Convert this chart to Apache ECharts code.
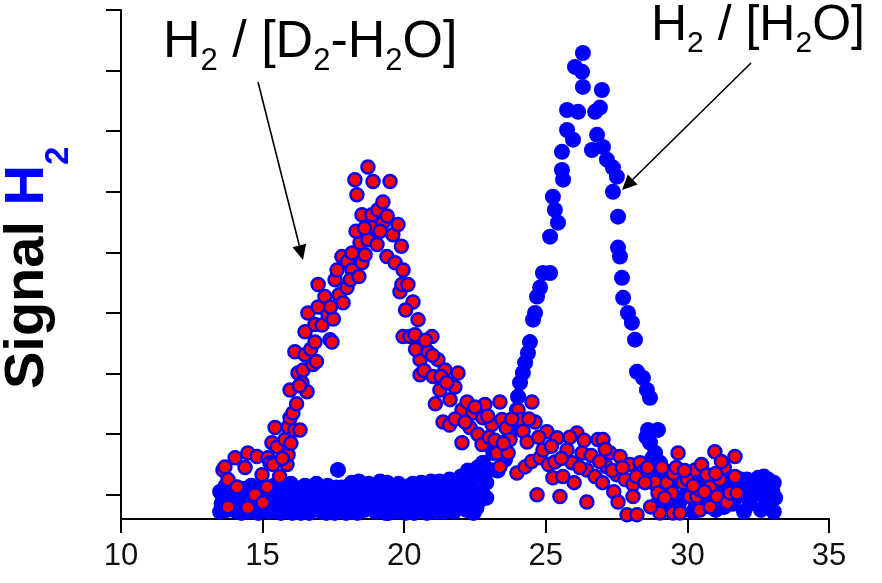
<!DOCTYPE html>
<html><head><meta charset="utf-8">
<script src="https://cdn.jsdelivr.net/npm/echarts@6/dist/echarts.min.js"></script>
<style>html,body{margin:0;padding:0;background:#fff}#c{width:882px;height:583px}</style>
</head><body><div id="c"></div>
<script>
// ---- data ----
const xTickValues = [10, 15, 20, 25, 30, 35];
const yTickValues = [0, 1, 2, 3, 4, 5, 6, 7, 8];
const yTitle = ['Signal ', 'H', '2'];
const label1 = [['H',0],['2',1],[' / [D',0],['2',1],['-H',0],['2',1],['O]',0]];
const label2 = [['H',0],['2',1],[' / [H',0],['2',1],['O]',0]];

// H2 / [D2-H2O]  (red)
const redX = [13.60,13.67,13.74,13.78,13.78,14.03,14.10,14.38,14.48,14.48,14.73,14.80,14.98,15.01,15.16,15.19,15.26,15.33,15.37,15.44,15.51,15.60,15.79,15.86,15.90,15.90,15.97,15.97,16.00,16.07,16.14,16.14,16.25,16.32,16.39,16.43,16.50,16.50,16.57,16.60,16.70,16.78,16.85,16.85,16.96,16.96,17.10,17.20,17.31,17.38,17.45,17.56,17.63,17.70,17.80,17.84,17.98,18.00,18.16,18.16,18.26,18.33,18.44,18.51,18.51,18.62,18.72,18.72,18.86,18.86,18.90,19.04,19.07,19.25,19.25,19.39,19.50,19.60,19.68,19.78,19.85,19.92,19.96,19.96,20.13,20.20,20.31,20.38,20.49,20.56,20.56,20.70,20.84,20.98,21.02,21.10,21.19,21.26,21.37,21.44,21.60,21.62,21.79,21.90,22.04,22.04,22.22,22.32,22.43,22.60,22.75,22.78,22.85,23.00,23.10,23.28,23.38,23.38,23.45,23.60,23.67,23.74,23.98,24.02,24.09,24.20,24.27,24.34,24.50,24.51,24.62,24.69,24.80,24.90,25.04,25.10,25.25,25.32,25.40,25.50,25.60,25.75,25.93,26.00,26.10,26.28,26.45,26.45,26.60,26.74,26.84,27.00,27.02,27.16,27.27,27.40,27.51,27.55,27.62,27.80,27.87,27.97,28.08,28.08,28.22,28.33,28.43,28.60,28.86,28.96,29.03,29.10,29.28,29.46,29.49,29.50,29.67,29.74,29.84,30.00,30.09,30.27,30.34,30.44,30.44,30.50,30.69,30.80,30.80,30.97,31.05,31.15,31.30,31.40,31.50,31.68,31.68,31.75,
  15.70,16.20,16.30,16.90,17.50,17.40,18.10,18.40,18.30,18.60,19.15,19.40,19.90,20.05,20.40,20.75,21.00,21.30,21.50,21.80,22.15,22.50,22.95,23.20,23.50,23.80,24.40,24.75,25.20,25.55,25.85,26.20,26.35,26.90,27.10,27.35,27.70,28.20,28.50,28.70,29.20,29.60,29.90,30.20,30.60,31.00,31.20];
const redY = [0.41,0.46,-0.17,0.25,-0.20,0.61,0.13,0.45,0.69,-0.21,0.00,0.63,0.33,-0.13,0.13,0.61,0.53,0.86,0.50,1.11,0.79,0.30,0.91,0.50,0.66,1.12,1.27,1.73,0.85,1.35,1.07,2.36,2.01,1.07,1.85,2.06,2.31,2.69,1.70,3.00,2.40,2.15,2.52,2.81,3.10,3.47,2.80,3.27,2.97,2.56,2.52,3.55,3.71,3.30,3.93,3.17,3.42,3.85,3.99,3.71,5.20,4.95,4.16,4.62,3.83,3.96,5.41,4.21,4.42,4.62,5.17,4.13,4.70,4.83,4.49,3.93,5.17,4.29,3.83,4.46,3.35,3.47,3.71,2.61,3.47,2.61,3.18,2.64,2.89,2.23,1.98,2.05,2.36,2.61,1.95,1.50,2.23,1.73,1.20,2.06,1.15,1.57,1.78,2.01,1.40,0.86,1.53,1.11,1.35,1.00,0.83,1.27,1.49,0.95,1.16,0.69,1.53,0.46,1.24,1.10,0.69,0.91,0.36,1.40,1.24,1.05,0.46,0.87,0.55,1.53,1.20,0.00,0.61,0.74,1.04,0.50,0.28,0.54,0.94,-0.03,0.30,0.74,0.53,0.20,1.02,0.69,0.41,-0.12,0.65,0.30,0.91,0.20,0.91,0.46,0.69,0.05,0.33,-0.12,0.63,0.25,-0.33,0.50,0.17,-0.03,-0.33,0.53,0.38,0.45,0.21,0.03,-0.30,0.45,0.20,0.03,-0.30,0.35,0.69,-0.30,0.20,0.25,-0.03,0.41,-0.03,0.08,-0.25,0.50,0.33,0.13,-0.20,0.71,-0.03,0.25,0.45,-0.13,0.03,0.63,0.30,0.03,
  0.60,1.50,1.80,2.20,2.90,3.10,3.55,3.60,4.35,4.40,4.35,4.60,4.10,3.05,2.40,2.55,2.30,1.95,1.85,1.25,1.20,1.45,1.30,0.90,0.85,1.25,1.25,0.95,0.80,0.60,0.95,0.45,0.90,0.55,0.75,0.40,0.45,0.30,0.20,-0.20,-0.05,0.45,0.40,0.15,0.05,0.35,0.55];

// H2 / [H2O]  (blue)
const blueX = [13.50,13.50,13.60,13.70,13.75,13.90,14.10,14.15,14.30,14.35,14.50,14.70,14.75,14.90,15.10,15.15,15.30,15.50,15.55,15.70,15.75,15.90,15.95,16.10,16.15,16.30,16.35,16.50,16.55,16.70,16.75,16.90,16.95,17.10,17.15,17.30,17.35,17.50,17.55,17.66,17.80,17.85,18.00,18.05,18.20,18.25,18.40,18.45,18.60,18.65,18.80,18.85,19.00,19.05,19.20,19.25,19.40,19.45,19.60,19.65,19.80,19.85,20.00,20.05,20.20,20.25,20.40,20.45,20.60,20.65,20.80,20.85,21.00,21.05,21.20,21.25,21.40,21.45,21.60,21.65,21.80,21.85,22.00,22.05,22.20,22.25,22.40,22.45,22.60,22.65,22.78,22.90,22.90,23.03,23.14,23.30,23.49,23.56,23.74,23.91,23.98,24.02,24.09,24.19,24.27,24.37,24.44,24.55,24.62,24.69,24.80,24.90,25.15,25.15,25.43,25.32,25.25,25.57,25.61,25.57,25.96,25.75,25.75,26.14,26.31,26.28,26.03,26.31,26.98,26.74,26.91,26.81,26.63,27.02,27.16,27.37,27.51,27.37,27.55,27.55,27.62,27.69,27.73,27.90,28.04,28.15,28.22,28.43,28.57,28.68,28.55,28.61,28.96,28.68,28.75,28.86,29.03,29.10,29.28,29.40,28.80,29.00,29.20,29.40,29.60,29.80,30.00,30.20,30.40,30.60,30.80,31.00,31.20,31.40,31.60,31.80,32.00,32.10,32.30,32.50,32.60,32.70,32.80,32.90,33.00,33.05,
  13.55,13.65,13.85,13.95,14.05,14.20,14.25,14.40,14.45,14.60,14.65,14.80,14.85,15.00,15.05,15.20,15.25,15.40,15.45,15.60,15.65,15.80,15.85,16.00,16.05,16.20,16.25,16.40,16.45,16.60,16.65,16.80,16.85,17.00,17.05,17.20,17.25,17.40,17.45,17.60,17.70,17.90,17.95,18.10,18.15,18.30,18.35,18.50,18.55,18.70,18.75,18.90,18.95,19.10,19.15,19.30,19.35,19.50,19.55,19.70,19.75,19.90,19.95,20.10,20.15,20.30,20.35,20.50,20.55,20.70,20.75,20.90,20.95,21.10,21.15,21.30,21.35,21.50,21.55,21.70,21.75,21.90,21.95,22.10,22.15,22.30,22.35,22.50,22.55,22.70,22.75,
  28.90,29.10,29.30,29.50,29.70,29.90,30.10,30.30,30.50,30.70,30.90,31.10,31.30,31.50,31.70,31.90,32.05,32.20,32.40,32.55,32.75,32.85,32.95,33.05,33.10];
const blueY = [-0.28,0.05,-0.10,0.15,-0.25,-0.05,-0.28,0.02,0.10,-0.20,-0.10,-0.28,0.10,-0.05,-0.25,0.12,-0.10,0.05,-0.28,0.15,-0.12,-0.25,0.05,0.12,-0.18,-0.05,-0.30,0.15,-0.12,-0.25,0.05,0.18,-0.10,-0.28,0.02,0.15,-0.15,-0.05,-0.30,0.41,0.12,-0.20,-0.05,0.15,-0.28,0.05,0.22,-0.12,-0.25,0.08,0.12,-0.05,-0.28,0.15,0.00,-0.18,0.20,-0.30,-0.08,0.10,0.18,-0.20,-0.05,-0.30,0.15,-0.10,-0.25,0.08,0.20,-0.12,-0.30,0.05,0.18,-0.15,-0.05,0.22,-0.28,0.10,0.25,-0.10,-0.25,0.15,0.30,-0.05,-0.25,0.40,0.10,-0.30,0.45,-0.10,0.53,0.20,-0.05,0.41,0.69,0.40,0.86,0.58,1.02,1.19,1.40,1.62,1.85,2.01,2.18,2.34,2.52,2.89,3.00,3.27,3.42,3.66,3.66,4.26,4.49,4.70,4.92,5.36,5.20,5.66,5.86,6.02,6.35,6.32,6.73,6.98,7.06,7.29,6.68,6.32,6.39,5.94,5.69,5.74,5.53,5.40,5.25,5.00,4.59,4.08,3.93,3.58,3.25,3.00,2.84,2.56,2.03,1.93,1.73,1.60,0.95,1.07,1.07,0.86,0.60,0.69,0.53,0.35,0.36,0.15,0.20,-0.10,0.10,-0.25,0.30,-0.05,0.15,-0.28,0.20,-0.10,0.25,-0.25,0.05,0.30,-0.15,0.15,-0.28,0.25,0.00,0.28,-0.25,0.30,0.10,-0.20,0.05,-0.28,
  -0.15,0.00,0.10,-0.22,0.12,-0.12,-0.30,0.05,-0.28,0.15,-0.15,-0.05,-0.30,0.10,-0.15,0.02,-0.28,0.15,-0.20,-0.05,-0.30,0.08,-0.20,0.18,-0.30,-0.10,0.05,0.12,-0.22,0.00,-0.30,-0.15,0.10,0.05,-0.22,-0.10,-0.30,0.08,-0.25,0.12,-0.15,0.05,-0.30,-0.15,0.20,-0.05,-0.30,0.05,-0.18,-0.05,0.18,-0.15,0.05,-0.10,0.22,0.08,-0.30,-0.15,0.15,0.02,-0.28,0.10,-0.12,0.02,-0.22,0.18,-0.30,-0.05,0.15,0.05,-0.22,-0.12,0.22,0.05,-0.28,0.15,-0.12,-0.05,0.20,0.10,-0.28,0.02,-0.20,0.18,-0.15,0.25,-0.05,0.30,-0.22,0.35,0.05,
  0.40,-0.20,0.05,0.25,-0.15,0.20,0.05,-0.15,0.05,0.25,-0.05,0.20,-0.20,0.15,-0.05,0.25,0.05,-0.15,0.10,0.05,-0.10,0.25,0.15,0.20,-0.05];

// ---- chart ----
const FONT = '"Liberation Sans", Arial, Helvetica, sans-serif';
const zip = (a, b) => a.map((v, i) => [v, b[i]]);
const mctx = document.createElement('canvas').getContext('2d');
function measure(t, size, weight) { mctx.font = (weight || 'normal') + ' ' + size + 'px ' + FONT; return mctx.measureText(t).width; }

function formula(segs, x0, yc, main, sub, subOff, color, weight) {
  const els = []; let x = x0;
  segs.forEach(([t, isSub]) => {
    const sz = isSub ? sub : main;
    els.push({ type: 'text', x: x, y: isSub ? yc + subOff : yc,
      style: { text: t, font: (weight || 'normal') + ' ' + sz + 'px ' + FONT, fill: color, align: 'left', verticalAlign: 'middle' } });
    x += measure(t, sz, weight);
  });
  return els;
}
function arrow(x1, y1, x2, y2) {
  const L = 15, W = 7;
  const dx = x2 - x1, dy = y2 - y1, len = Math.hypot(dx, dy), ux = dx / len, uy = dy / len;
  const bx = x2 - ux * L, by = y2 - uy * L;
  return [
    { type: 'line', shape: { x1: x1, y1: y1, x2: bx, y2: by }, style: { stroke: '#000', lineWidth: 1.6 } },
    { type: 'polygon', shape: { points: [[x2, y2], [bx - uy * W, by + ux * W], [bx + uy * W, by - ux * W]] }, style: { fill: '#000' } }
  ];
}

// rotated y title
const titleEls = [];
(function () {
  let x = 0; const main = 56, sub = 33;
  const parts = [[yTitle[0], 0, '#000'], [yTitle[1], 0, '#0000ff'], [yTitle[2], 1, '#0000ff']];
  parts.forEach(([t, isSub, col]) => {
    const sz = isSub ? sub : main;
    titleEls.push({ type: 'text', x: x, y: isSub ? 31 : 0,
      style: { text: t, font: 'bold ' + sz + 'px ' + FONT, fill: col, align: 'left', verticalAlign: 'middle' } });
    x += measure(t, sz, 'bold');
  });
})();

const graphics = [].concat(
  formula(label1, 163, 43, 52, 31, 18, '#000'),
  formula(label2, 651, 26, 50, 30, 18, '#000'),
  arrow(258, 82, 303, 260),
  arrow(751, 63, 622, 190),
  [{ type: 'group', x: 28, y: 389, rotation: Math.PI / 2, children: titleEls }]
);

const chart = echarts.init(document.getElementById('c'), null, { renderer: 'canvas' });
chart.setOption({
  animation: false,
  backgroundColor: '#fff',
  grid: { left: 121, right: 53, top: 10, bottom: 64, containLabel: false },
  xAxis: {
    type: 'value', min: 10, max: 35, interval: 5,
    axisLine: { show: true, onZero: false, lineStyle: { color: '#000', width: 2 } },
    axisTick: { show: true, length: 14, lineStyle: { color: '#000', width: 2 } },
    axisLabel: { show: true, fontSize: 31, fontFamily: FONT, color: '#111', margin: 22 },
    splitLine: { show: false }
  },
  yAxis: {
    type: 'value', min: -0.4, max: 8,
    axisLine: { show: true, lineStyle: { color: '#000', width: 2 } },
    axisTick: { show: true, length: 15, customValues: yTickValues, lineStyle: { color: '#000', width: 2 } },
    axisLabel: { show: false },
    splitLine: { show: false }
  },
  series: [
    { type: 'scatter', name: 'H2 / [H2O]', data: zip(blueX, blueY), symbol: 'circle', symbolSize: 16,
      itemStyle: { color: '#0000ff', opacity: 1 }, z: 2 },
    { type: 'scatter', name: 'H2 / [D2-H2O]', data: zip(redX, redY), symbol: 'circle', symbolSize: 13,
      itemStyle: { color: '#ff0000', borderColor: '#0000ff', borderWidth: 2.5, opacity: 1 }, z: 3 }
  ],
  graphic: graphics
});
</script></body></html>
